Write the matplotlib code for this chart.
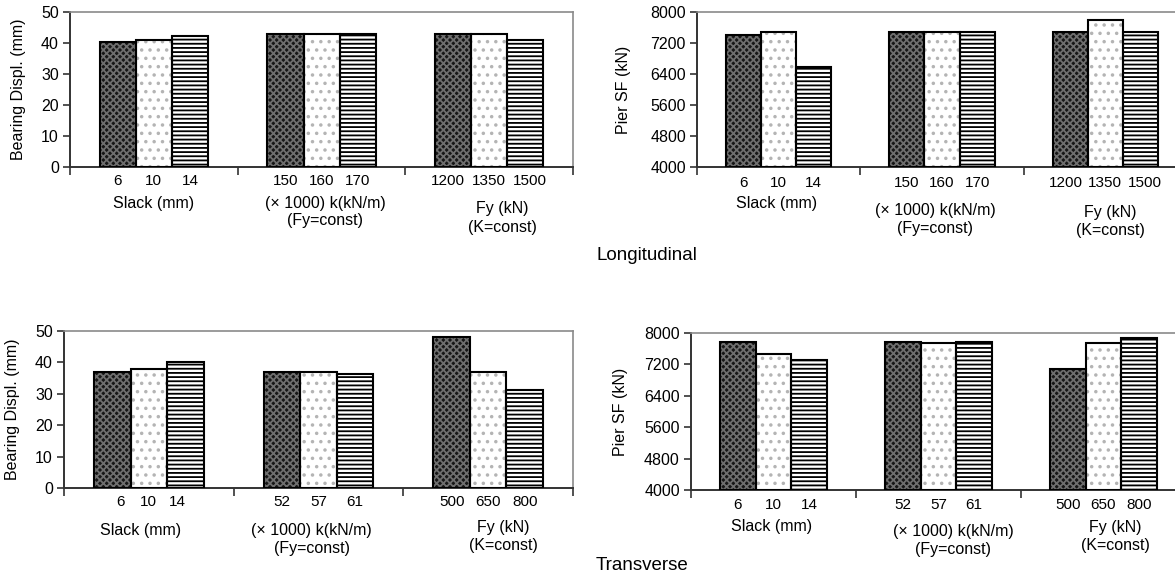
import numpy as np
import matplotlib
matplotlib.use('Agg')
import matplotlib.pyplot as plt

plt.rcParams['font.family'] = ['Liberation Sans', 'DejaVu Sans']
plt.rcParams['hatch.linewidth'] = 1.3

# data
long_disp = [[40.4, 41.0, 42.3], [42.9, 42.9, 42.9], [42.9, 42.9, 41.0]]
long_sf = [[7400, 7490, 6580], [7490, 7490, 7490], [7490, 7790, 7490]]
trans_disp = [[36.8, 37.9, 40.1], [36.8, 36.8, 36.3], [48.1, 36.8, 31.2]]
trans_sf = [[7770, 7460, 7310], [7770, 7750, 7770], [7090, 7750, 7860]]

long_ticks = [['6', '10', '14'], ['150', '160', '170'], ['1200', '1350', '1500']]
trans_ticks = [['6', '10', '14'], ['52', '57', '61'], ['500', '650', '800']]

group_labels = [['Slack (mm)'], ['(\u00d7 1000) k(kN/m)', '(Fy=const)'], ['Fy (kN)', '(K=const)']]

disp_label = 'Bearing Displ. (mm)'
sf_label = 'Pier SF (kN)'

styles = [
    dict(fc='#161616', hc='#6e6e6e', hatch='xxxxx'),
    dict(fc='white', hc='#b4b4b4', hatch='..'),
    dict(fc='white', hc='black', hatch='----'),
]

W = 0.215
FS = 11.5


def panel(ax, vals, ticks, ylim, yticks, ylabel, num_dy, lab_x, lab_dy, num_spread=None):
    for g in range(3):
        for b in range(3):
            x = g + 0.5 + (b - 1) * W
            s = styles[b]
            ax.bar(x, vals[g][b] - ylim[0], W, bottom=ylim[0], color=s['fc'],
                   edgecolor=s['hc'], hatch=s['hatch'], linewidth=0, zorder=2)
            ax.bar(x, vals[g][b] - ylim[0], W, bottom=ylim[0], facecolor='none',
                   edgecolor='black', linewidth=1.5, zorder=3)
            sp = W if num_spread is None or num_spread[g] is None else num_spread[g]
            xc = g + 0.5 + (b - 1) * sp
            ax.annotate(ticks[g][b], xy=(xc, 0), xycoords=('data', 'axes fraction'),
                        xytext=(0, -num_dy), textcoords='offset pixels',
                        ha='center', va='center', fontsize=11)
        for k, line in enumerate(group_labels[g]):
            ax.annotate(line, xy=(lab_x[g], 0), xycoords=('data', 'axes fraction'),
                        xytext=(0, -lab_dy[g][k]), textcoords='offset pixels',
                        ha='center', va='center', fontsize=FS)
    ax.set_xlim(0, 3)
    ax.set_ylim(*ylim)
    ax.set_xticks([0, 1, 2, 3])
    ax.set_xticklabels([])
    ax.set_yticks(yticks)
    ax.tick_params(axis='x', direction='out', length=6, width=1.2, color='#333333')
    ax.tick_params(axis='y', direction='out', length=5, width=1.2, color='#333333',
                   labelsize=FS, pad=3)
    for sname in ['left', 'bottom']:
        ax.spines[sname].set_color('#333333')
        ax.spines[sname].set_linewidth(1.4)
    for sname in ['top', 'right']:
        ax.spines[sname].set_color('#8a8a8a')
        ax.spines[sname].set_linewidth(1.2)
    ax.set_ylabel(ylabel, fontsize=11.5)


fig = plt.figure(figsize=(11.75, 5.85), dpi=100)

ax1 = fig.add_axes([0.0596, 0.7145, 0.4281, 0.2650])
ax2 = fig.add_axes([0.5932, 0.7145, 0.4170, 0.2650])
ax3 = fig.add_axes([0.0545, 0.1658, 0.4332, 0.2684])
ax4 = fig.add_axes([0.5880, 0.1624, 0.4213, 0.2684])

panel(ax1, long_disp, long_ticks, (0, 50), range(0, 51, 10), disp_label,
      14, [0.5, 1.52, 2.58], [[36], [36, 53], [41, 60]], num_spread=[None, None, 0.245])
panel(ax2, long_sf, long_ticks, (4000, 8000), range(4000, 8001, 800), sf_label,
      16, [0.49, 1.46, 2.53], [[36], [43, 61], [45, 63]], num_spread=[None, None, 0.24])
panel(ax3, trans_disp, trans_ticks, (0, 50), range(0, 51, 10), disp_label,
      14, [0.45, 1.46, 2.59], [[42], [42, 60], [39, 57]], num_spread=[0.17, None, None])
panel(ax4, trans_sf, trans_ticks, (4000, 8000), range(4000, 8001, 800), sf_label,
      15, [0.49, 1.59, 2.57], [[37], [42, 60], [38, 56]])

ax1.yaxis.set_label_coords(-0.087, 0.5)
ax2.yaxis.set_label_coords(-0.135, 0.5)
ax3.yaxis.set_label_coords(-0.086, 0.5)
ax4.yaxis.set_label_coords(-0.127, 0.5)

fig.text(596 / 1175, 1 - 255 / 585, 'Longitudinal', fontsize=13.5, ha='left', va='center')
fig.text(596 / 1175, 1 - 565 / 585, 'Transverse', fontsize=13.5, ha='left', va='center')

fig.savefig('out.png', dpi=100)
